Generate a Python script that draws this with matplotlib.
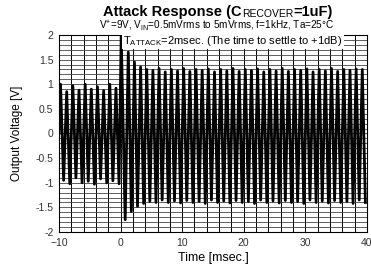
import numpy as np
import matplotlib
matplotlib.use('Agg')
import matplotlib.pyplot as plt
from matplotlib.transforms import offset_copy

plt.rcParams['font.family'] = ['Liberation Sans', 'DejaVu Sans']

# peak values per 1 kHz cycle (top then bottom of each cycle)
# cycles start at -10 ms, one per ms
tops = [1.00, 0.85, 0.97, 0.88, 1.00, 0.90, 0.95, 0.87, 1.00, 0.92,
        2.00, 1.65, 1.45, 1.35, 1.30, 1.28, 1.32, 1.25, 1.30, 1.27,
        1.32, 1.26, 1.30, 1.28, 1.31, 1.25, 1.30, 1.27, 1.32, 1.26,
        1.30, 1.28, 1.31, 1.25, 1.30, 1.27, 1.32, 1.26, 1.30, 1.28,
        1.31, 1.25, 1.30, 1.27, 1.32, 1.26, 1.30, 1.28, 1.31, 1.30]
bottoms = [-0.95, -1.02, -0.90, -1.00, -0.97, -1.03, -0.92, -1.00, -0.96, -1.02,
           -1.75, -1.58, -1.48, -1.42, -1.38, -1.40, -1.35, -1.40, -1.37, -1.41,
           -1.36, -1.40, -1.38, -1.42, -1.35, -1.40, -1.37, -1.41, -1.36, -1.40,
           -1.38, -1.42, -1.35, -1.40, -1.37, -1.41, -1.36, -1.40, -1.38, -1.42,
           -1.35, -1.40, -1.37, -1.41, -1.36, -1.40, -1.38, -1.42, -1.35, -1.40]
t_start = -10.0

xticks = [-10, 0, 10, 20, 30, 40]
yticks = [-2, -1.5, -1, -0.5, 0, 0.5, 1, 1.5, 2]
ytick_labels = ['-2', '-1.5', '-1', '-0.5', '0', '0.5', '1', '1.5', '2']

# build zigzag through peaks
t = []
v = []
for k in range(len(tops)):
    t.append(t_start + k + 0.25)
    v.append(tops[k])
    t.append(t_start + k + 0.75)
    v.append(bottoms[k])
t = [t_start] + t
v = [0.0] + v
# the step edge right at 0 ms
t[21] = 0.1

fig = plt.figure(figsize=(3.71, 2.73), dpi=100)
ax = fig.add_axes([0.159, 0.150, 0.830, 0.722])

for gx in np.arange(-10, 40.1, 2):
    ax.axvline(gx, color='black', lw=0.7, zorder=1)
for gy in np.arange(-2, 2.01, 0.1):
    ax.axhline(gy, color='#444444', lw=0.6, zorder=1)

ax.plot(t, v, color='black', lw=2.0, zorder=3)

ax.set_xlim(-10, 40)
ax.set_ylim(-2, 2)
ax.set_xticks(xticks)
ax.set_yticks(yticks)
ax.set_yticklabels(ytick_labels)
ax.tick_params(length=0, labelsize=7.5, colors='#333333', pad=4)
for s in ax.spines.values():
    s.set_linewidth(0.8)

ax.set_xlabel('Time [msec.]', fontsize=9, labelpad=3)
ax.set_ylabel('Output Voltage [V]', fontsize=8.5, labelpad=9)

# title built from pieces so the small "RECOVER" sits on the baseline
renderer = fig.canvas.get_renderer()
pieces = [('Attack Response (C', 10.5, 'bold', 0),
          ('RECOVER', 7.5, 'normal', -0.5),
          ('=1uF)', 10.5, 'bold', 0)]
widths = []
for s, fs, fw, dy in pieces:
    tmp = fig.text(0, 0, s, fontsize=fs, fontweight=fw)
    widths.append(tmp.get_window_extent(renderer).width)
    tmp.remove()
x0 = 0.587 * fig.bbox.width - sum(widths) / 2
for (s, fs, fw, dy), w in zip(pieces, widths):
    tr = offset_copy(fig.transFigure, fig=fig, x=0, y=dy, units='points')
    fig.text(x0 / fig.bbox.width, 0.941, s, fontsize=fs, fontweight=fw,
             ha='left', va='baseline', transform=tr)
    x0 += w

fig.text(0.585, 0.893, r'V$^{\mathregular{+}}$=9V, V$_{\mathregular{IN}}$=0.5mVrms to 5mVrms, f=1kHz, Ta=25°C',
         ha='center', va='baseline', fontsize=7.2)
ax.text(0.4, 1.88, r'T$_{\mathregular{ATTACK}}$=2msec. (The time to settle to +1dB)',
        ha='left', va='center', fontsize=8.0, zorder=5,
        bbox=dict(facecolor='white', edgecolor='none', pad=1))

fig.savefig('out.png', dpi=100)
